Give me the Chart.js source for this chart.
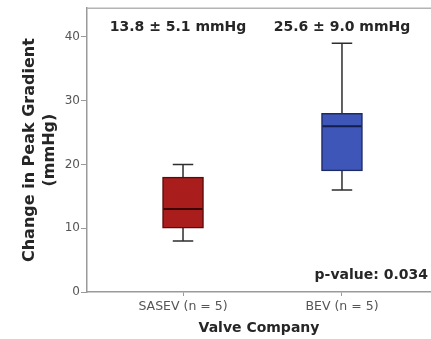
<!DOCTYPE html>
<html>
<head>
<meta charset="utf-8">
<script src="https://cdn.jsdelivr.net/npm/chart.js@4.4.1/dist/chart.umd.min.js"></script>
<style>
  html, body { margin: 0; padding: 0; background: #fff; overflow: hidden; }
  canvas { display: block; }
</style>
</head>
<body>
<canvas id="c" width="431" height="339"></canvas>
<script>
// Change in peak gradient by valve company (five-number summaries, n = 5 each)
const categories = ['SASEV (n = 5)', 'BEV (n = 5)'];
const categoryPos = [1, 2];
const whiskerLow = [8, 16];
const quartile1 = [10, 19];
const medians = [13, 26];
const quartile3 = [18, 28];
const whiskerHigh = [20, 39];
const meanLabels = ['13.8 ± 5.1 mmHg', '25.6 ± 9.0 mmHg'];
const pValueLabel = 'p-value: 0.034';
const yTicks = [0, 10, 20, 30, 40];

const boxFill = ['#a91d1d', '#3d56b8'];
const boxEdge = ['#5a0c0c', '#1c2a66'];
const medianColor = ['#3d0606', '#141e4d'];
const axisColor = '#9a9a9a';
const textDark = '#262626';
const FONT = "'DejaVu Sans', sans-serif";

Chart.defaults.font.family = FONT;

// whiskers under the boxes, medians on top, plus the summary text
const boxPlotExtras = {
  id: 'boxPlotExtras',
  beforeDatasetsDraw(chart) {
    const { ctx, scales: { x, y } } = chart;
    const bars = chart.getDatasetMeta(0).data;
    ctx.save();
    ctx.strokeStyle = '#2e2e2e';
    ctx.lineWidth = 1.5;
    categoryPos.forEach((v, i) => {
      const px = bars[i].x;
      const half = bars[i].width / 4;
      const yLo = y.getPixelForValue(whiskerLow[i]);
      const yHi = y.getPixelForValue(whiskerHigh[i]);
      ctx.beginPath();
      ctx.moveTo(px, yHi); ctx.lineTo(px, yLo);
      ctx.moveTo(px - half, yHi); ctx.lineTo(px + half, yHi);
      ctx.moveTo(px - half, yLo); ctx.lineTo(px + half, yLo);
      ctx.stroke();
    });
    ctx.restore();
  },
  afterDatasetsDraw(chart) {
    const { ctx, scales: { y } } = chart;
    const bars = chart.getDatasetMeta(0).data;
    ctx.save();
    ctx.lineWidth = 2;
    categoryPos.forEach((v, i) => {
      const px = bars[i].x;
      const half = bars[i].width / 2;
      const ym = y.getPixelForValue(medians[i]);
      ctx.strokeStyle = medianColor[i];
      ctx.beginPath();
      ctx.moveTo(px - half + 1, ym); ctx.lineTo(px + half - 1, ym);
      ctx.stroke();
    });
    ctx.restore();
  },
  afterDraw(chart) {
    const { ctx, chartArea, scales: { x } } = chart;
    ctx.save();
    // frame line along the top of the plot
    ctx.strokeStyle = '#b4b4b4';
    ctx.lineWidth = 1.5;
    ctx.beginPath();
    ctx.moveTo(chartArea.left, chartArea.top);
    ctx.lineTo(chartArea.right, chartArea.top);
    ctx.stroke();

    ctx.fillStyle = textDark;
    ctx.font = 'bold 14px ' + FONT;
    ctx.textBaseline = 'alphabetic';
    ctx.textAlign = 'center';
    const nudge = [-5, 0];
    categoryPos.forEach((v, i) => {
      ctx.fillText(meanLabels[i], x.getPixelForValue(v) + nudge[i], chartArea.top + 23);
    });
    ctx.textAlign = 'right';
    ctx.fillText(pValueLabel, chartArea.right - 3, chartArea.bottom - 13);
    ctx.restore();
  }
};

new Chart(document.getElementById('c'), {
  type: 'bar',
  data: {
    datasets: [{
      data: categoryPos.map((v, i) => ({ x: v, y: [quartile1[i], quartile3[i]] })),
      backgroundColor: boxFill,
      borderColor: boxEdge,
      borderWidth: 1.5,
      borderSkipped: false,
      barThickness: 41
    }]
  },
  options: {
    responsive: false,
    animation: false,
    layout: { padding: { top: 5, left: 0, right: 0, bottom: 0 } },
    plugins: { legend: { display: false }, tooltip: { enabled: false } },
    scales: {
      x: {
        type: 'linear',
        offset: false,
        min: 0.396,
        max: 2.56,
        afterBuildTicks(scale) { scale.ticks = categoryPos.map(v => ({ value: v })); },
        afterFit(scale) { scale.height = 47; },
        ticks: {
          autoSkip: false,
          maxRotation: 0,
          padding: 3,
          color: '#555',
          font: { size: 12.5 },
          callback: (value, index) => categories[index]
        },
        grid: { offset: false, drawOnChartArea: false, drawTicks: true, tickLength: 4, color: axisColor },
        border: { display: true, color: axisColor, width: 1.5 },
        title: {
          display: true,
          text: 'Valve Company',
          color: textDark,
          font: { size: 14, weight: 'bold', lineHeight: 1.2 },
          padding: { top: 0, bottom: 2 }
        }
      },
      y: {
        min: 0,
        max: 44.5,
        afterBuildTicks(scale) { scale.ticks = yTicks.map(v => ({ value: v })); },
        afterFit(scale) { scale.width = 87; },
        ticks: { padding: 1, color: '#555', font: { size: 12 } },
        grid: { drawOnChartArea: false, drawTicks: true, tickLength: 6, color: axisColor },
        border: { display: true, color: axisColor, width: 1.5 },
        title: {
          display: true,
          text: ['Change in Peak Gradient', '(mmHg)'],
          color: textDark,
          font: { size: 16, weight: 'bold', lineHeight: 1.25 },
          padding: { top: 20, bottom: 0 }
        }
      }
    }
  },
  plugins: [boxPlotExtras]
});
</script>
</body>
</html>
